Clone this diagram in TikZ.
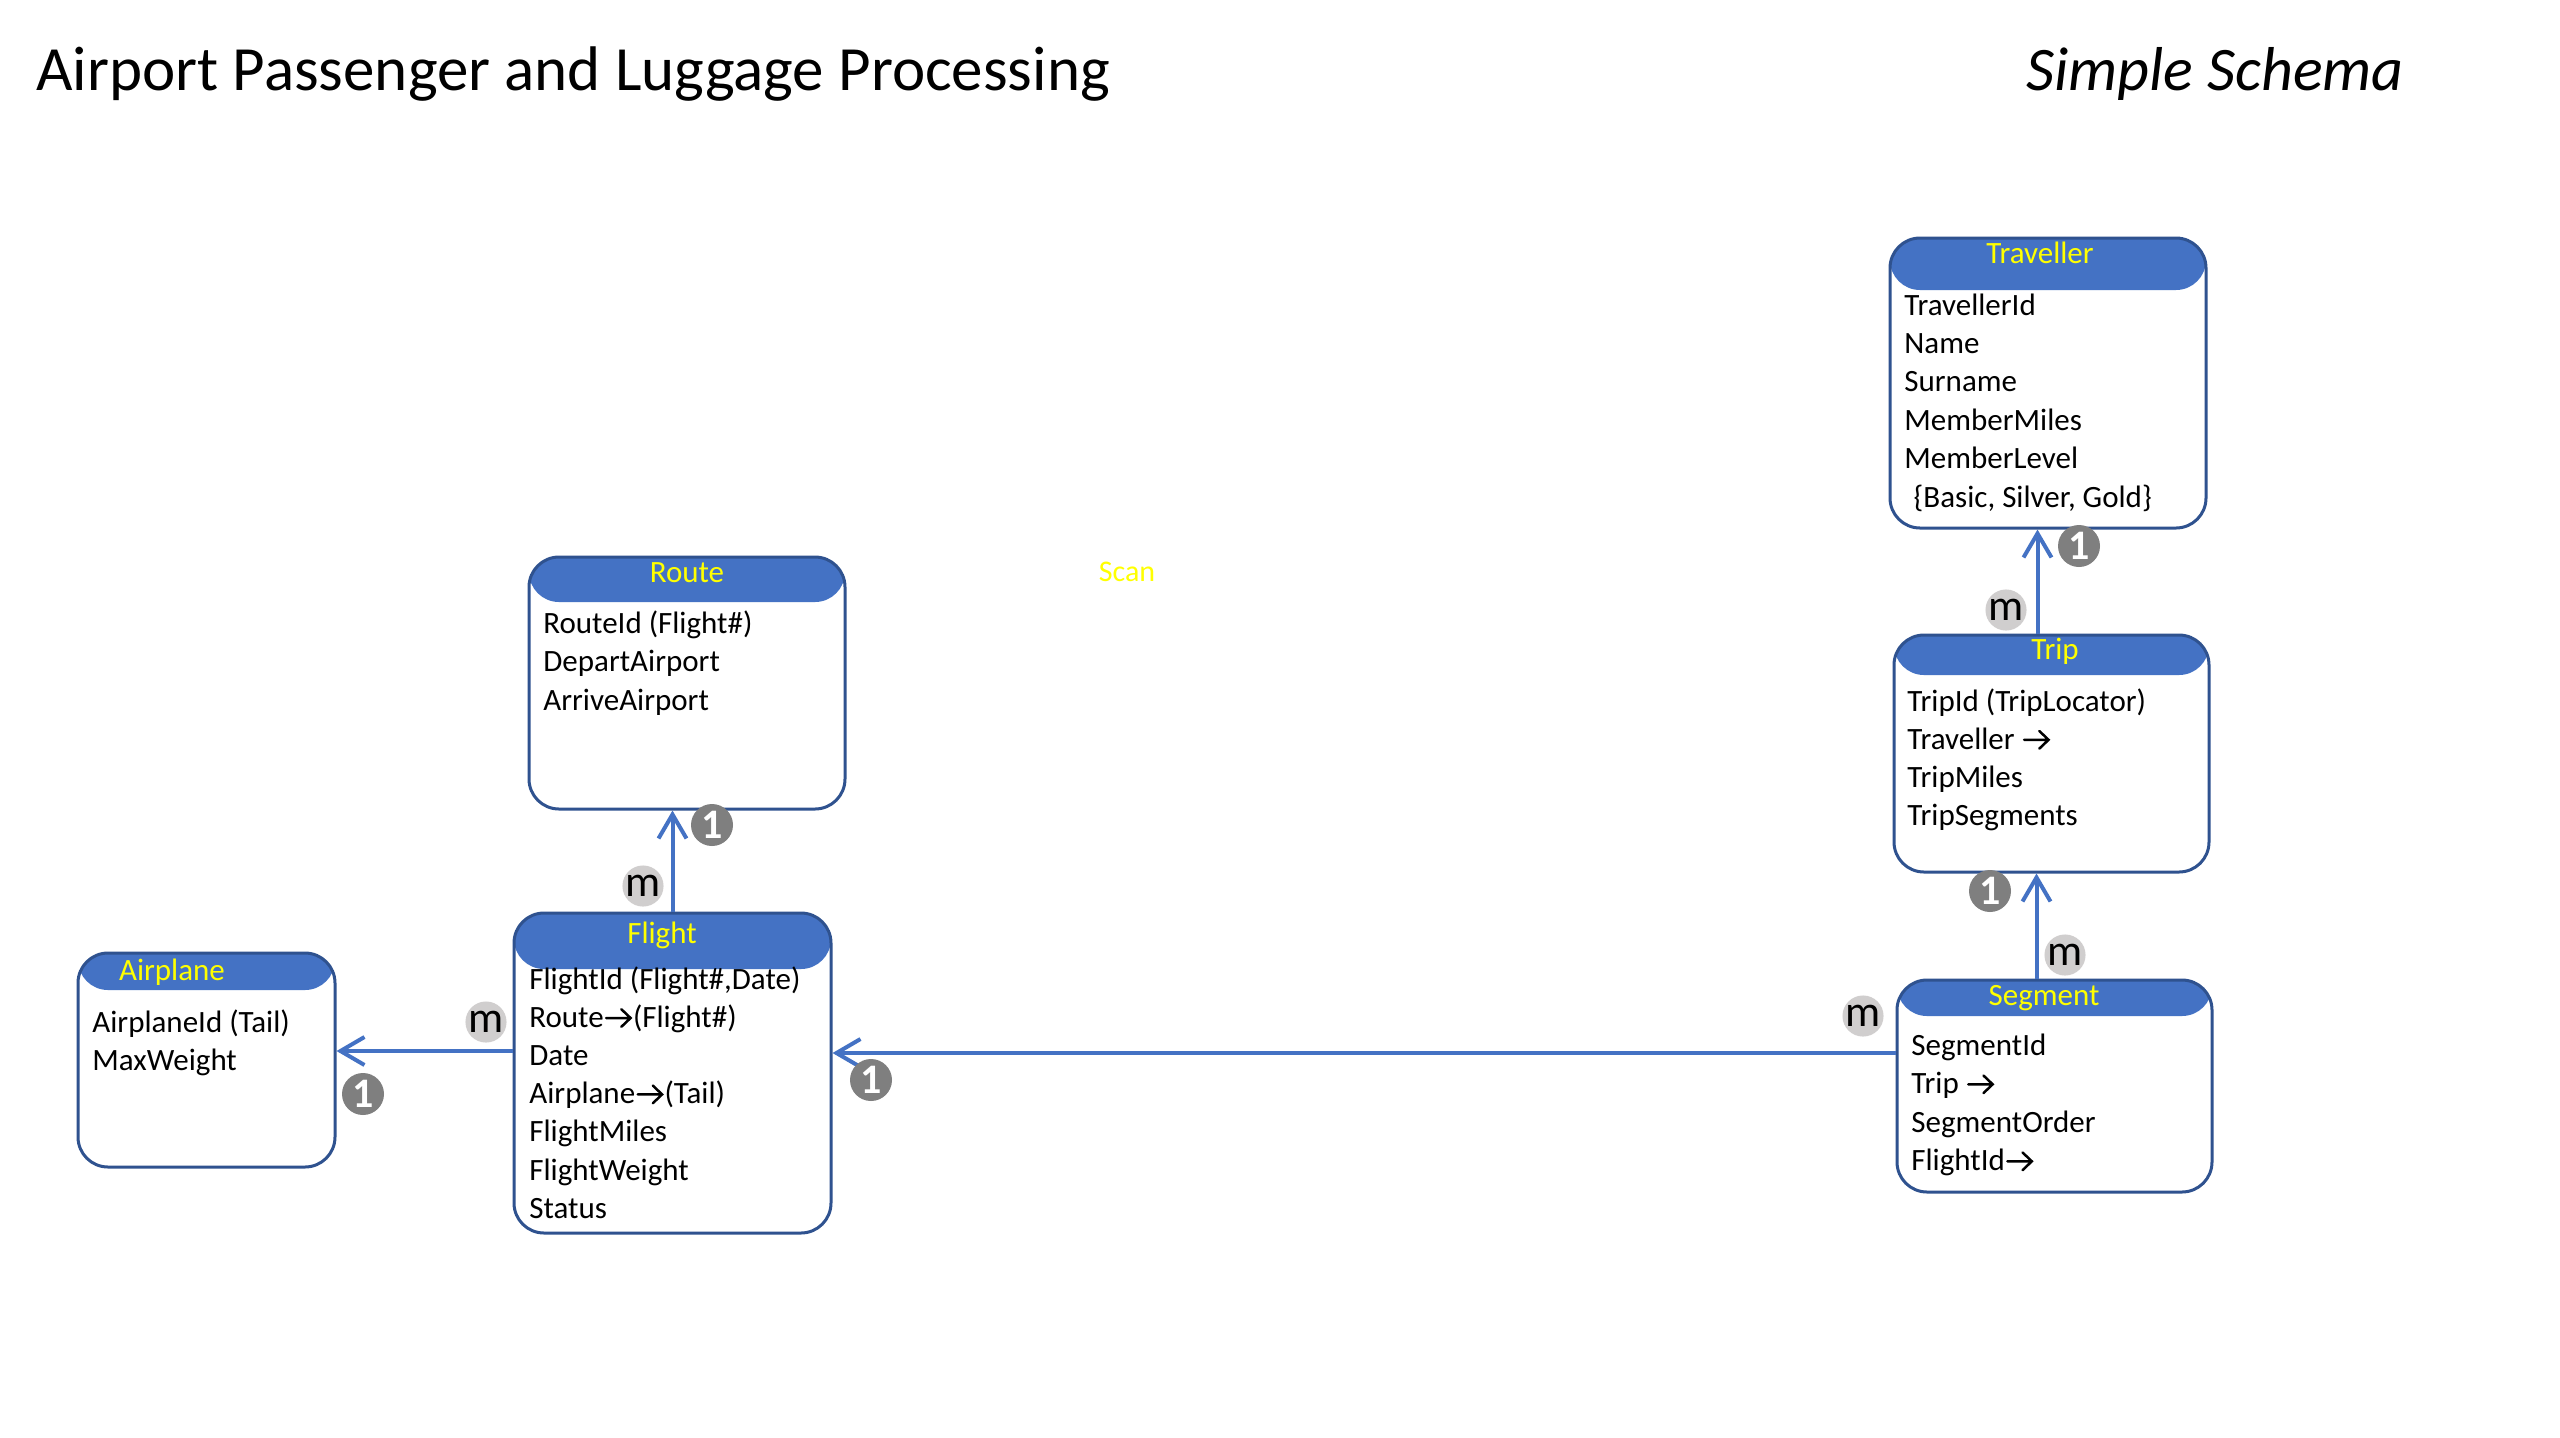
\documentclass[tikz,border=0pt]{standalone}
\usepackage{fontspec}
\setmainfont{Carlito}
\usetikzlibrary{arrows.meta}
\definecolor{hdr}{HTML}{4472C4}
\definecolor{edgec}{HTML}{2F528F}
\definecolor{connc}{HTML}{4472C4}
\definecolor{onec}{HTML}{7F7F7F}
\definecolor{mfill}{HTML}{D0CECE}
\definecolor{ttl}{HTML}{FFFF00}
\newcommand\myarr{\kern0.6pt\tikz[x=1pt,y=1pt,baseline=0pt]{\draw[line width=1.25pt, line cap=round, line join=miter] (0,4.6) -- (12.2,4.6) (7.6,0.2) -- (12.2,4.6) -- (7.6,9);}\kern0.6pt}
\tikzset{
  entity/.style={rectangle, draw=edgec, line width=1.5pt, rounded corners=15pt, fill=white, inner sep=0pt,
    path picture={\fill[hdr] ([yshift=2pt]path picture bounding box.north west) rectangle ([yshift=-#1]path picture bounding box.north east);}},
  row/.style={anchor=base west, inner sep=0pt, font=\fontsize{15.5}{19}\selectfont},
  hdrtext/.style={anchor=base, inner sep=0pt, text=ttl, font=\fontsize{15.5}{19}\selectfont},
  onebadge/.style={circle, fill=onec, minimum size=21pt, inner sep=0pt, text=white, font=\fontsize{21}{21}\selectfont\bfseries},
  mbadge/.style={circle, fill=mfill, minimum size=20pt, inner sep=0pt, font=\fontsize{22}{22}\selectfont},
  link/.style={draw=connc, line width=2pt, -{Straight Barb[length=12pt, width=14pt]}},
}
\begin{document}
\begin{tikzpicture}[x=0.5pt, y=-0.5pt]
\fill[white] (0,0) rectangle (2560,1437);
\useasboundingbox (0,0) rectangle (2560,1437);

% titles
\node[anchor=base west, inner sep=0pt, font=\fontsize{31.5}{36}\selectfont] (title) at (36,90) {Airport Passenger and Luggage Processing};
\node[anchor=base west, inner sep=0pt, font=\fontsize{31}{36}\selectfont\itshape] (sub) at (2026,90) {Simple Schema};
\node[anchor=base, inner sep=0pt, text=ttl, font=\fontsize{15}{18}\selectfont] (scan) at (1127,581) {Scan};

% entities
\node[entity=26pt, minimum width=158pt, minimum height=145pt] (trav) at (2048,383) {};
\node[entity=20pt, minimum width=157.5pt, minimum height=118.5pt] (trip) at (2051.5,753.5) {};
\node[entity=18pt, minimum width=157.5pt, minimum height=106pt] (seg) at (2054.5,1086) {};
\node[entity=22.5pt, minimum width=158pt, minimum height=126pt] (route) at (687,683) {};
\node[entity=28pt, minimum width=158.5pt, minimum height=160pt] (flight) at (672.5,1073) {};
\node[entity=18.5pt, minimum width=128.5pt, minimum height=107pt] (plane) at (206.5,1060) {};

% headers
\node[hdrtext] (travT) at (2040,263) {Traveller};
\node[hdrtext] (tripT) at (2055,659) {Trip};
\node[hdrtext] (segT) at (2044,1005) {Segment};
\node[hdrtext] (routeT) at (687,582) {Route};
\node[hdrtext] (flightT) at (662,943) {Flight};
\node[hdrtext] (planeT) at (172,980) {Airplane};

% rows
\foreach \t [count=\i] in {TravellerId, Name, Surname, MemberMiles, MemberLevel, {\hspace*{0.3em}\{Basic, Silver, Gold\}}}
  \node[row] (trv\i) at (1904,{315+38.4*(\i-1)}) {\t};
\foreach \t [count=\i] in {TripId (TripLocator), Traveller \myarr, TripMiles, TripSegments}
  \node[row] (trp\i) at (1907,{711+38*(\i-1)}) {\t};
\foreach \t [count=\i] in {SegmentId, Trip \myarr, SegmentOrder, FlightId\myarr}
  \node[row] (sgm\i) at (1911,{1055+38.5*(\i-1)}) {\t};
\foreach \t [count=\i] in {RouteId (Flight\#), DepartAirport, ArriveAirport}
  \node[row] (rte\i) at (543,{633+38.5*(\i-1)}) {\t};
\foreach \t [count=\i] in {{FlightId (Flight\#,Date)}, Route\myarr(Flight\#), Date, Airplane\myarr(Tail), FlightMiles, FlightWeight, Status}
  \node[row] (flt\i) at (529,{989+38.2*(\i-1)}) {\t};
\foreach \t [count=\i] in {AirplaneId (Tail), MaxWeight}
  \node[row] (pln\i) at (92,{1032+38*(\i-1)}) {\t};

% connectors
\draw[link] (flight.north) -- (flight.north |- route.south);
\draw[link] ([yshift=11pt]flight.west) -- ([yshift=11pt]flight.west -| plane.east);
\draw[link] ([yshift=16.5pt]seg.west) -- ([yshift=16.5pt]seg.west -| flight.east);
\draw[link] ([xshift=-7pt]trip.north) -- ([xshift=-7pt]trip.north |- trav.south);
\draw[link] ([xshift=-9pt]seg.north) -- ([xshift=-9pt]seg.north |- trip.south);

% cardinality badges
\node[onebadge] (b1) at (712,825) {1};
\node[mbadge] (m1) at (643,886) {m};
\node[onebadge] (b2) at (363,1094) {1};
\node[mbadge] (m2) at (486,1022) {m};
\node[onebadge] (b3) at (871,1080) {1};
\node[mbadge] (m3) at (1863,1016) {m};
\node[onebadge] (b4) at (1990,891) {1};
\node[mbadge] (m4) at (2065,955) {m};
\node[onebadge] (b5) at (2079,546) {1};
\node[mbadge] (m5) at (2006,610) {m};
\end{tikzpicture}
\end{document}
